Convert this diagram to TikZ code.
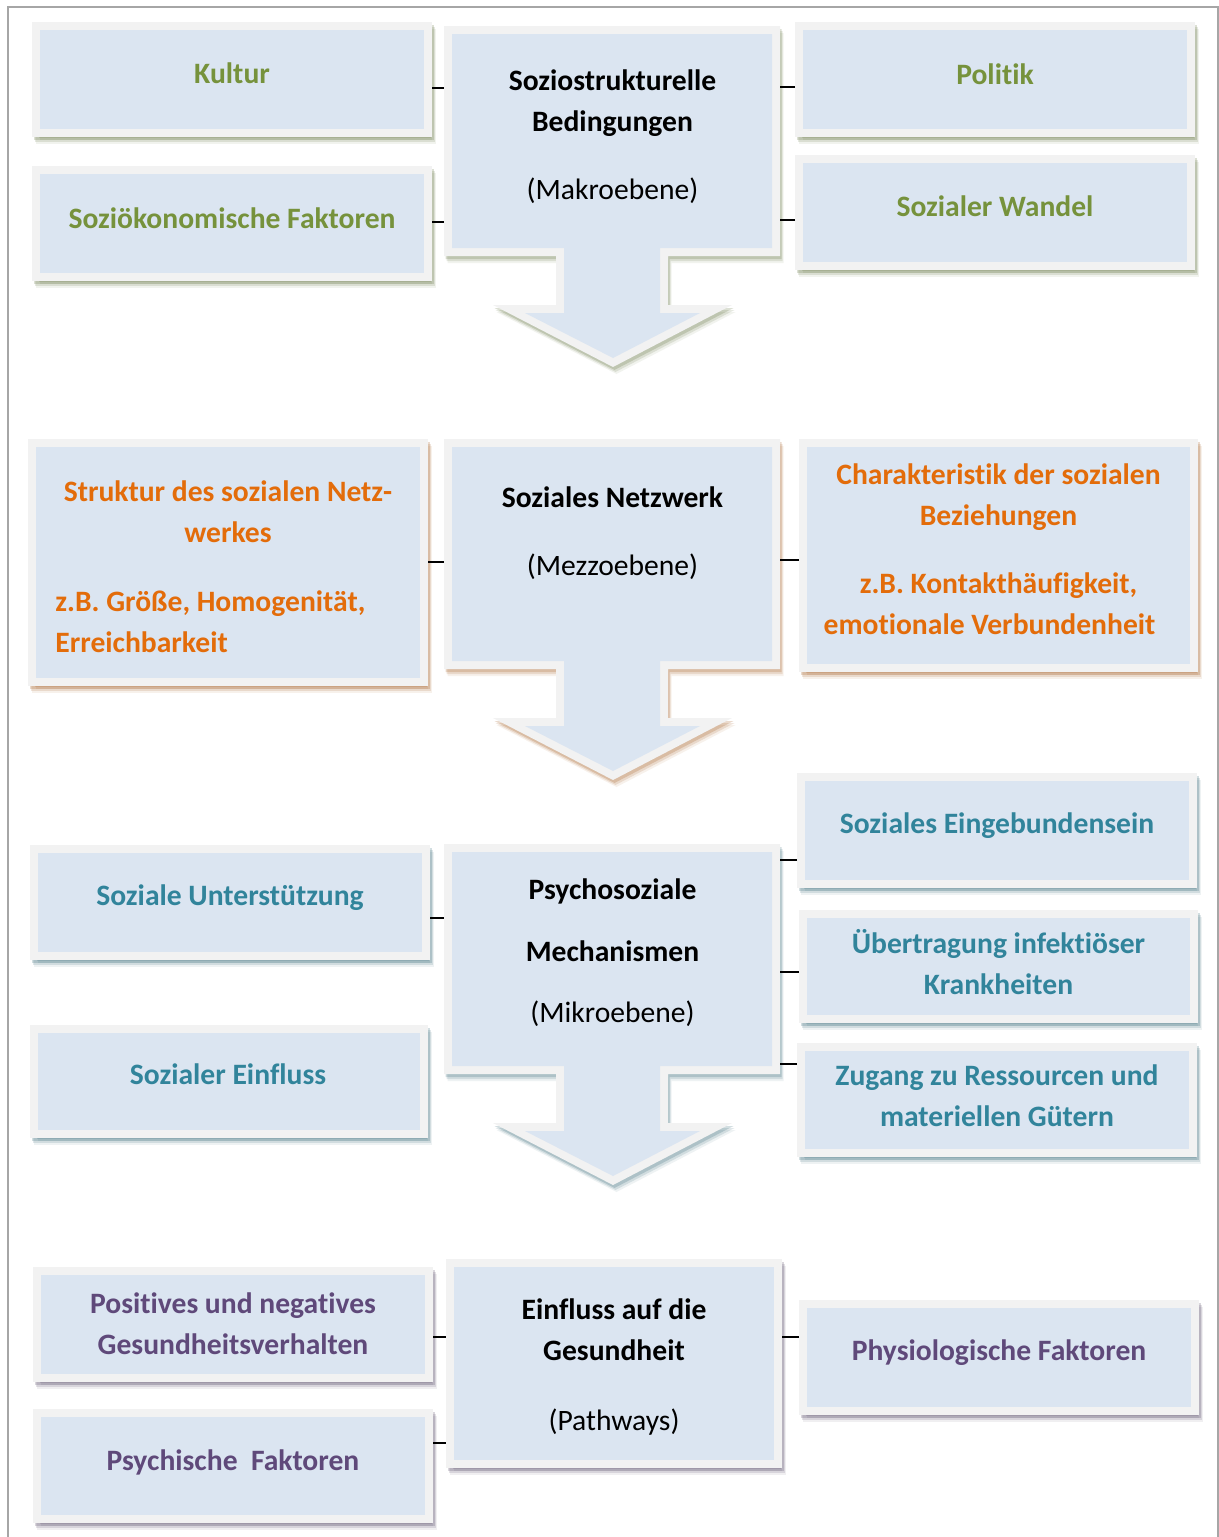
\documentclass[tikz,border=0pt]{standalone}
\usepackage{fontspec}
\setmainfont[Ligatures=NoCommon]{Carlito}
\usetikzlibrary{shadows}
\definecolor{boxfill}{HTML}{DBE5F1}
\definecolor{boxborder}{HTML}{F2F2F2}
\definecolor{tgreen}{HTML}{76923C}
\definecolor{torange}{HTML}{E36C0A}
\definecolor{tteal}{HTML}{31849B}
\definecolor{tpurple}{HTML}{5F497A}
\definecolor{sgreen}{HTML}{4F6228}
\definecolor{sorange}{HTML}{974806}
\definecolor{steal}{HTML}{205867}
\definecolor{spurple}{HTML}{3F3151}
\definecolor{framegray}{HTML}{A6A6A6}
\newcommand\fstrut{\rule{0pt}{13pt}}
\newcommand\arrowouter{(444,26) -- (780,26) -- (780,256) -- (668,256) -- (668,305) -- (732,305) -- (613,367) -- (493,305) -- (556,305) -- (556,256) -- (444,256) -- cycle}
\newcommand\arrowinner{(452,34) -- (772,34) -- (772,248) -- (660,248) -- (660,313) -- (700,313) -- (613,358) -- (525,313) -- (564,313) -- (564,248) -- (452,248) -- cycle}
\tikzset{
  boxshadow/.style={
    general shadow={shadow xshift=0.75pt, shadow yshift=-1.5pt, fill=#1, draw=#1, line width=4pt, opacity=.20},
    general shadow={shadow xshift=1.25pt, shadow yshift=-2.5pt, fill=#1, draw=#1, line width=4pt, opacity=.14},
    general shadow={shadow xshift=1.75pt, shadow yshift=-3.5pt, fill=#1, draw=#1, line width=4pt, opacity=.08}},
  shapeshadow/.style={
    general shadow={shadow xshift=0.75pt, shadow yshift=-1.5pt, fill=#1, opacity=.20},
    general shadow={shadow xshift=1.25pt, shadow yshift=-2.5pt, fill=#1, opacity=.14},
    general shadow={shadow xshift=1.75pt, shadow yshift=-3.5pt, fill=#1, opacity=.08}},
  sidebox/.style={rectangle, fill=boxfill, draw=boxborder, line width=4pt, inner sep=0pt, boxshadow=#1},
  sz/.style 2 args={minimum width={(#1-8)*0.5pt}, minimum height={(#2-8)*0.5pt}},
  anchorbox/.style={rectangle, draw=none, inner sep=0pt, outer sep=0pt},
  tbase/.style={anchor=north, inner sep=0pt, align=center, font=\fontsize{14.8pt}{20.5pt}\selectfont\bfseries},
  gtxt/.style={tbase, text=tgreen},
  otxt/.style={tbase, text=torange},
  ttxt/.style={tbase, text=tteal},
  ptxt/.style={tbase, text=tpurple},
  ktxt/.style={tbase, text=black},
  conn/.style={draw=black, line width=0.75pt},
  frameline/.style={draw=framegray, line width=1pt}
}
\begin{document}
\begin{tikzpicture}[x=0.5pt, y=-0.5pt]
\useasboundingbox (0,0) rectangle (1219,1537);
\draw[frameline] (8,1537) -- (8,7) -- (1218,7) -- (1218,1537);

% ---------- Row 1 ----------
\path[fill=boxborder, shapeshadow=sgreen] \arrowouter;
\path[fill=boxfill] \arrowinner;
\node[anchorbox, minimum width=168pt, minimum height=115pt] (c1) at (612,141) {};
\node[ktxt] (c1T) at (612.5,64) {\fstrut Soziostrukturelle\\Bedingungen\\[13.5pt]\mdseries (Makroebene)};

\node[sidebox=sgreen, sz={400}{115}] (kultur) at (232,79.5) {};
\node[gtxt] (kulturT) at (232,57) {\fstrut Kultur};
\node[sidebox=sgreen, sz={400}{115}] (sozio) at (232,223.5) {};
\node[gtxt] (sozioT) at (232,202) {\fstrut Soziökonomische Faktoren};
\node[sidebox=sgreen, sz={400}{115}] (politik) at (995,79.5) {};
\node[gtxt] (politikT) at (995,58) {\fstrut Politik};
\node[sidebox=sgreen, sz={400}{115}] (wandel) at (995,212.5) {};
\node[gtxt] (wandelT) at (995,190) {\fstrut Sozialer Wandel};

% ---------- Row 2 ----------
\begin{scope}[shift={(0,413)}]
\path[fill=boxborder, shapeshadow=sorange] \arrowouter;
\path[fill=boxfill] \arrowinner;
\end{scope}
\node[anchorbox, minimum width=168pt, minimum height=114.5pt] (c2) at (612,553.5) {};
\node[ktxt] (c2T) at (612.5,481) {\fstrut Soziales Netzwerk\\[13.5pt]\mdseries (Mezzoebene)};

\node[sidebox=sorange, sz={400}{247}] (struktur) at (228,562.5) {};
\node[otxt] (strukturT) at (228,475) {\fstrut Struktur des sozialen Netz-\\werkes};
\node[otxt, anchor=north west, align=left] (strukturB) at (55,585) {\fstrut z.B. Größe, Homogenität,\\Erreichbarkeit};
\node[sidebox=sorange, sz={399}{233}] (charakt) at (998.5,555.5) {};
\node[otxt] (charaktT) at (998.5,458) {\fstrut Charakteristik der sozialen\\Beziehungen\hspace*{9pt}\\[13.5pt]z.B. Kontakthäufigkeit,\\emotionale Verbundenheit\hspace*{9pt}};

% ---------- Row 3 ----------
\begin{scope}[shift={(0,818)}]
\path[fill=boxborder, shapeshadow=steal] \arrowouter;
\path[fill=boxfill] \arrowinner;
\end{scope}
\node[anchorbox, minimum width=168pt, minimum height=114.5pt] (c3) at (612,958.5) {};
\node[ktxt] (c3T) at (612.5,873) {\fstrut Psychosoziale\\[10.5pt]Mechanismen\\[10pt]\mdseries (Mikroebene)};

\node[sidebox=steal, sz={400}{115}] (unterst) at (230,902.5) {};
\node[ttxt] (unterstT) at (230,879) {\fstrut Soziale Unterstützung};
\node[sidebox=steal, sz={398}{113}] (einfl) at (229,1081.5) {};
\node[ttxt] (einflT) at (228,1058) {\fstrut Sozialer Einfluss};
\node[sidebox=steal, sz={400}{115}] (eingeb) at (997,830.5) {};
\node[ttxt] (eingebT) at (997,807) {\fstrut Soziales Eingebundensein};
\node[sidebox=steal, sz={399}{113}] (uebertr) at (998.5,966.5) {};
\node[ttxt] (uebertrT) at (998.5,927) {\fstrut Übertragung infektiöser\\Krankheiten};
\node[sidebox=steal, sz={400}{114}] (zugang) at (997,1100) {};
\node[ttxt] (zugangT) at (997,1059) {\fstrut Zugang zu Ressourcen und\\materiellen Gütern};

% ---------- Row 4 ----------
\node[sidebox=spurple, sz={336}{209}] (c4) at (614,1363.5) {};
\node[ktxt] (c4T) at (614,1293) {\fstrut Einfluss auf die\\Gesundheit\\[14.5pt]\mdseries (Pathways)};
\node[sidebox=spurple, sz={400}{115}] (positives) at (233,1324.5) {};
\node[ptxt] (positivesT) at (233,1287) {\fstrut Positives und negatives\\Gesundheitsverhalten};
\node[sidebox=spurple, sz={400}{114}] (psych) at (233,1466) {};
\node[ptxt] (psychT) at (233,1444) {\fstrut Psychische\ \ Faktoren};
\node[sidebox=spurple, sz={400}{115}] (physio) at (999,1357.5) {};
\node[ptxt] (physioT) at (999,1334) {\fstrut Physiologische Faktoren};

% ---------- Connectors ----------
\draw[conn] ([yshift=-4.25pt]kultur.east) -- ([yshift=26.5pt]c1.west);
\draw[conn] ([yshift=0.75pt]sozio.east) -- ([yshift=-40.5pt]c1.west);
\draw[conn] ([yshift=-3.75pt]politik.west) -- ([yshift=27pt]c1.east);
\draw[conn] ([yshift=-3.75pt]wandel.west) -- ([yshift=-39.5pt]c1.east);
\draw[conn] ([yshift=0.25pt]struktur.east) -- ([yshift=-4.25pt]c2.west);
\draw[conn] ([yshift=-2.25pt]charakt.west) -- ([yshift=-3.25pt]c2.east);
\draw[conn] ([yshift=-7.75pt]unterst.east) -- ([yshift=20.25pt]c3.west);
\draw[conn] ([yshift=-14.75pt]eingeb.west) -- ([yshift=49.25pt]c3.east);
\draw[conn] ([yshift=-2.75pt]uebertr.west) -- ([yshift=-6.75pt]c3.east);
\draw[conn] ([yshift=18pt]zugang.west) -- ([yshift=-52.75pt]c3.east);
\draw[conn] ([yshift=-6.25pt]positives.east) -- ([yshift=13.25pt]c4.west);
\draw[conn] ([yshift=11.5pt]psych.east) -- ([yshift=-39.75pt]c4.west);
\draw[conn] ([yshift=10.25pt]physio.west) -- ([yshift=13.25pt]c4.east);
\end{tikzpicture}
\end{document}
